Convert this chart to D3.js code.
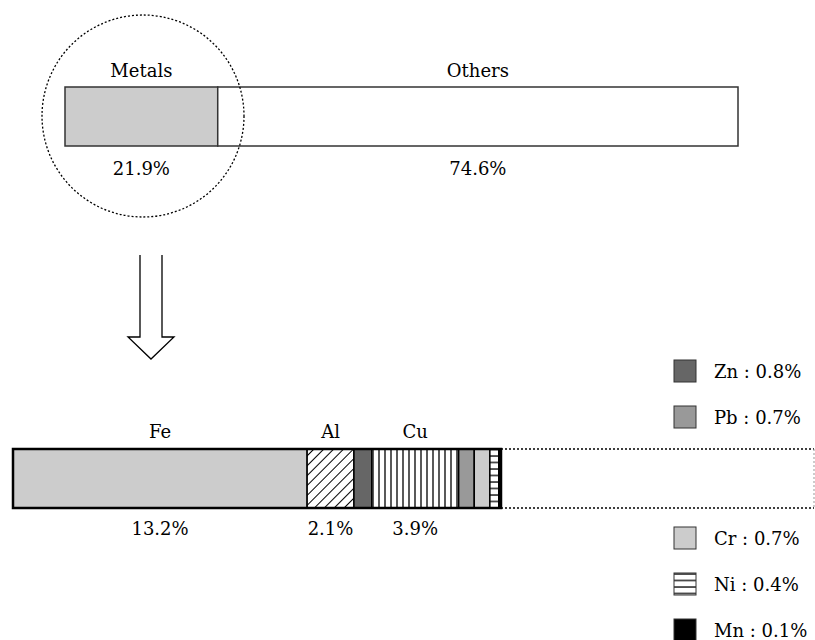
<!DOCTYPE html>
<html>
<head>
<meta charset="utf-8">
<script src="https://cdn.jsdelivr.net/npm/d3@7"></script>
<style>
  body { margin: 0; background: #fff; }
  text { font-family: "DejaVu Serif", serif; font-size: 18px; fill: #000; }
</style>
</head>
<body>
<div id="vis"></div>
<script>
const frame_width = 815;
const frame_height = 640;

// top bar: share of all waste
const top_categories = ["Metals", "Others"];
const top_values = [21.9, 74.6];

// bottom bar: breakdown of the metals
const metal_names = ["Fe", "Al", "Zn", "Cu", "Pb", "Cr", "Ni", "Mn"];
const metal_values = [13.2, 2.1, 0.8, 3.9, 0.7, 0.7, 0.4, 0.1];
const labelled_metals = ["Fe", "Al", "Cu"];
const legend_upper = ["Zn", "Pb"];
const legend_lower = ["Cr", "Ni", "Mn"];

const metal_fill = {Fe: "#cccccc", Al: "url(#diag)", Zn: "#666666", Cu: "url(#vert)",
                    Pb: "#999999", Cr: "#cccccc", Ni: "url(#horiz)", Mn: "#000000"};

const FRAME =
d3.select("#vis")
    .append("svg")
        .attr("width", frame_width)
        .attr("height", frame_height);

// hatch patterns
const defs = FRAME.append("defs");

const diag = defs.append("pattern")
    .attr("id", "diag")
    .attr("patternUnits", "userSpaceOnUse")
    .attr("width", 7).attr("height", 7)
    .attr("patternTransform", "rotate(45)");
diag.append("rect").attr("width", 7).attr("height", 7).attr("fill", "#fff");
diag.append("line").attr("x1", 0).attr("y1", 0).attr("x2", 0).attr("y2", 7)
    .attr("stroke", "#000").attr("stroke-width", 2);

const vert = defs.append("pattern")
    .attr("id", "vert")
    .attr("patternUnits", "userSpaceOnUse")
    .attr("width", 6).attr("height", 6);
vert.append("rect").attr("width", 6).attr("height", 6).attr("fill", "#fff");
vert.append("line").attr("x1", 1).attr("y1", 0).attr("x2", 1).attr("y2", 6)
    .attr("stroke", "#000").attr("stroke-width", 1.3);

const horiz = defs.append("pattern")
    .attr("id", "horiz")
    .attr("patternUnits", "userSpaceOnUse")
    .attr("width", 6).attr("height", 6.5);
horiz.append("rect").attr("width", 6).attr("height", 6.5).attr("fill", "#fff");
horiz.append("line").attr("x1", 0).attr("y1", 1).attr("x2", 6).attr("y2", 1)
    .attr("stroke", "#000").attr("stroke-width", 1.3);

//----- top bar -----
const top_x = d3.scaleLinear()
    .domain([0, d3.sum(top_values)])
    .range([65, 738]);
const top_y = 87, top_h = 59;

const top_starts = d3.cumsum([0].concat(top_values));

FRAME.selectAll(".topbar")
    .data(top_categories)
    .enter()
    .append("rect")
        .attr("class", "topbar")
        .attr("x", (d, i) => top_x(top_starts[i]))
        .attr("y", top_y)
        .attr("width", (d, i) => top_x(top_starts[i + 1]) - top_x(top_starts[i]))
        .attr("height", top_h)
        .attr("fill", (d, i) => i == 0 ? "#cccccc" : "#ffffff")
        .attr("stroke", "#333")
        .attr("stroke-width", 1.5);

FRAME.selectAll(".toplabel")
    .data(top_categories)
    .enter()
    .append("text")
        .attr("class", "toplabel")
        .attr("x", (d, i) => (top_x(top_starts[i]) + top_x(top_starts[i + 1])) / 2)
        .attr("y", 77)
        .attr("text-anchor", "middle")
        .text(d => d);

FRAME.selectAll(".toppct")
    .data(top_values)
    .enter()
    .append("text")
        .attr("class", "toppct")
        .attr("x", (d, i) => (top_x(top_starts[i]) + top_x(top_starts[i + 1])) / 2)
        .attr("y", 175)
        .attr("text-anchor", "middle")
        .text(d => d.toFixed(1) + "%");

// dotted circle round the metals part
FRAME.append("circle")
    .attr("cx", 143)
    .attr("cy", 116)
    .attr("r", 101)
    .attr("fill", "none")
    .attr("stroke", "#000")
    .attr("stroke-width", 1.3)
    .attr("stroke-dasharray", "2,2");

// hollow arrow
FRAME.append("path")
    .attr("d", "M140,255 L140,337 L128,337 L151,359 L174,337 L162,337 L162,255")
    .attr("fill", "none")
    .attr("stroke", "#000")
    .attr("stroke-width", 1.3);

//----- bottom bar -----
const bot_x = d3.scaleLinear()
    .domain([0, d3.sum(metal_values)])
    .range([13, 501]);
const bot_y = 449, bot_h = 59;
const bot_starts = d3.cumsum([0].concat(metal_values));

// dotted remainder
const rest_x = bot_x(d3.sum(metal_values));
FRAME.append("line")
    .attr("x1", rest_x).attr("x2", frame_width - 1)
    .attr("y1", bot_y).attr("y2", bot_y)
    .attr("stroke", "#000").attr("stroke-width", 1.3).attr("stroke-dasharray", "2,2");
FRAME.append("line")
    .attr("x1", rest_x).attr("x2", frame_width - 1)
    .attr("y1", bot_y + bot_h).attr("y2", bot_y + bot_h)
    .attr("stroke", "#000").attr("stroke-width", 1.3).attr("stroke-dasharray", "2,2");
FRAME.append("line")
    .attr("x1", frame_width - 1).attr("x2", frame_width - 1)
    .attr("y1", bot_y).attr("y2", bot_y + bot_h)
    .attr("stroke", "#999").attr("stroke-width", 1).attr("stroke-dasharray", "2,2");

FRAME.selectAll(".metal")
    .data(metal_names)
    .enter()
    .append("rect")
        .attr("class", "metal")
        .attr("x", (d, i) => bot_x(bot_starts[i]))
        .attr("y", bot_y)
        .attr("width", (d, i) => bot_x(bot_starts[i + 1]) - bot_x(bot_starts[i]))
        .attr("height", bot_h)
        .attr("fill", d => metal_fill[d])
        .attr("stroke", "#000")
        .attr("stroke-width", 1.5);

// outer frame of the metals bar
FRAME.append("rect")
    .attr("x", bot_x(0))
    .attr("y", bot_y)
    .attr("width", bot_x(d3.sum(metal_values)) - bot_x(0))
    .attr("height", bot_h)
    .attr("fill", "none")
    .attr("stroke", "#000")
    .attr("stroke-width", 2.5);

const mid = (name) => {
    let i = metal_names.indexOf(name);
    return (bot_x(bot_starts[i]) + bot_x(bot_starts[i + 1])) / 2;
};

FRAME.selectAll(".metallabel")
    .data(labelled_metals)
    .enter()
    .append("text")
        .attr("class", "metallabel")
        .attr("x", d => mid(d))
        .attr("y", 438)
        .attr("text-anchor", "middle")
        .text(d => d);

FRAME.selectAll(".metalpct")
    .data(labelled_metals)
    .enter()
    .append("text")
        .attr("class", "metalpct")
        .attr("x", d => mid(d))
        .attr("y", 535)
        .attr("text-anchor", "middle")
        .text(d => metal_values[metal_names.indexOf(d)].toFixed(1) + "%");

//----- legend -----
function drawLegend(names, y0) {
    const g = FRAME.append("g");
    const rows = g.selectAll("g")
        .data(names)
        .enter()
        .append("g")
            .attr("transform", (d, i) => "translate(674," + (y0 + i * 46) + ")");
    rows.append("rect")
        .attr("width", 22)
        .attr("height", 22)
        .attr("fill", d => metal_fill[d])
        .attr("stroke", "#333")
        .attr("stroke-width", 1);
    rows.append("text")
        .attr("x", 40)
        .attr("y", 18)
        .text(d => d + " : " + metal_values[metal_names.indexOf(d)].toFixed(1) + "%");
}
drawLegend(legend_upper, 360);
drawLegend(legend_lower, 527);
</script>
</body>
</html>
